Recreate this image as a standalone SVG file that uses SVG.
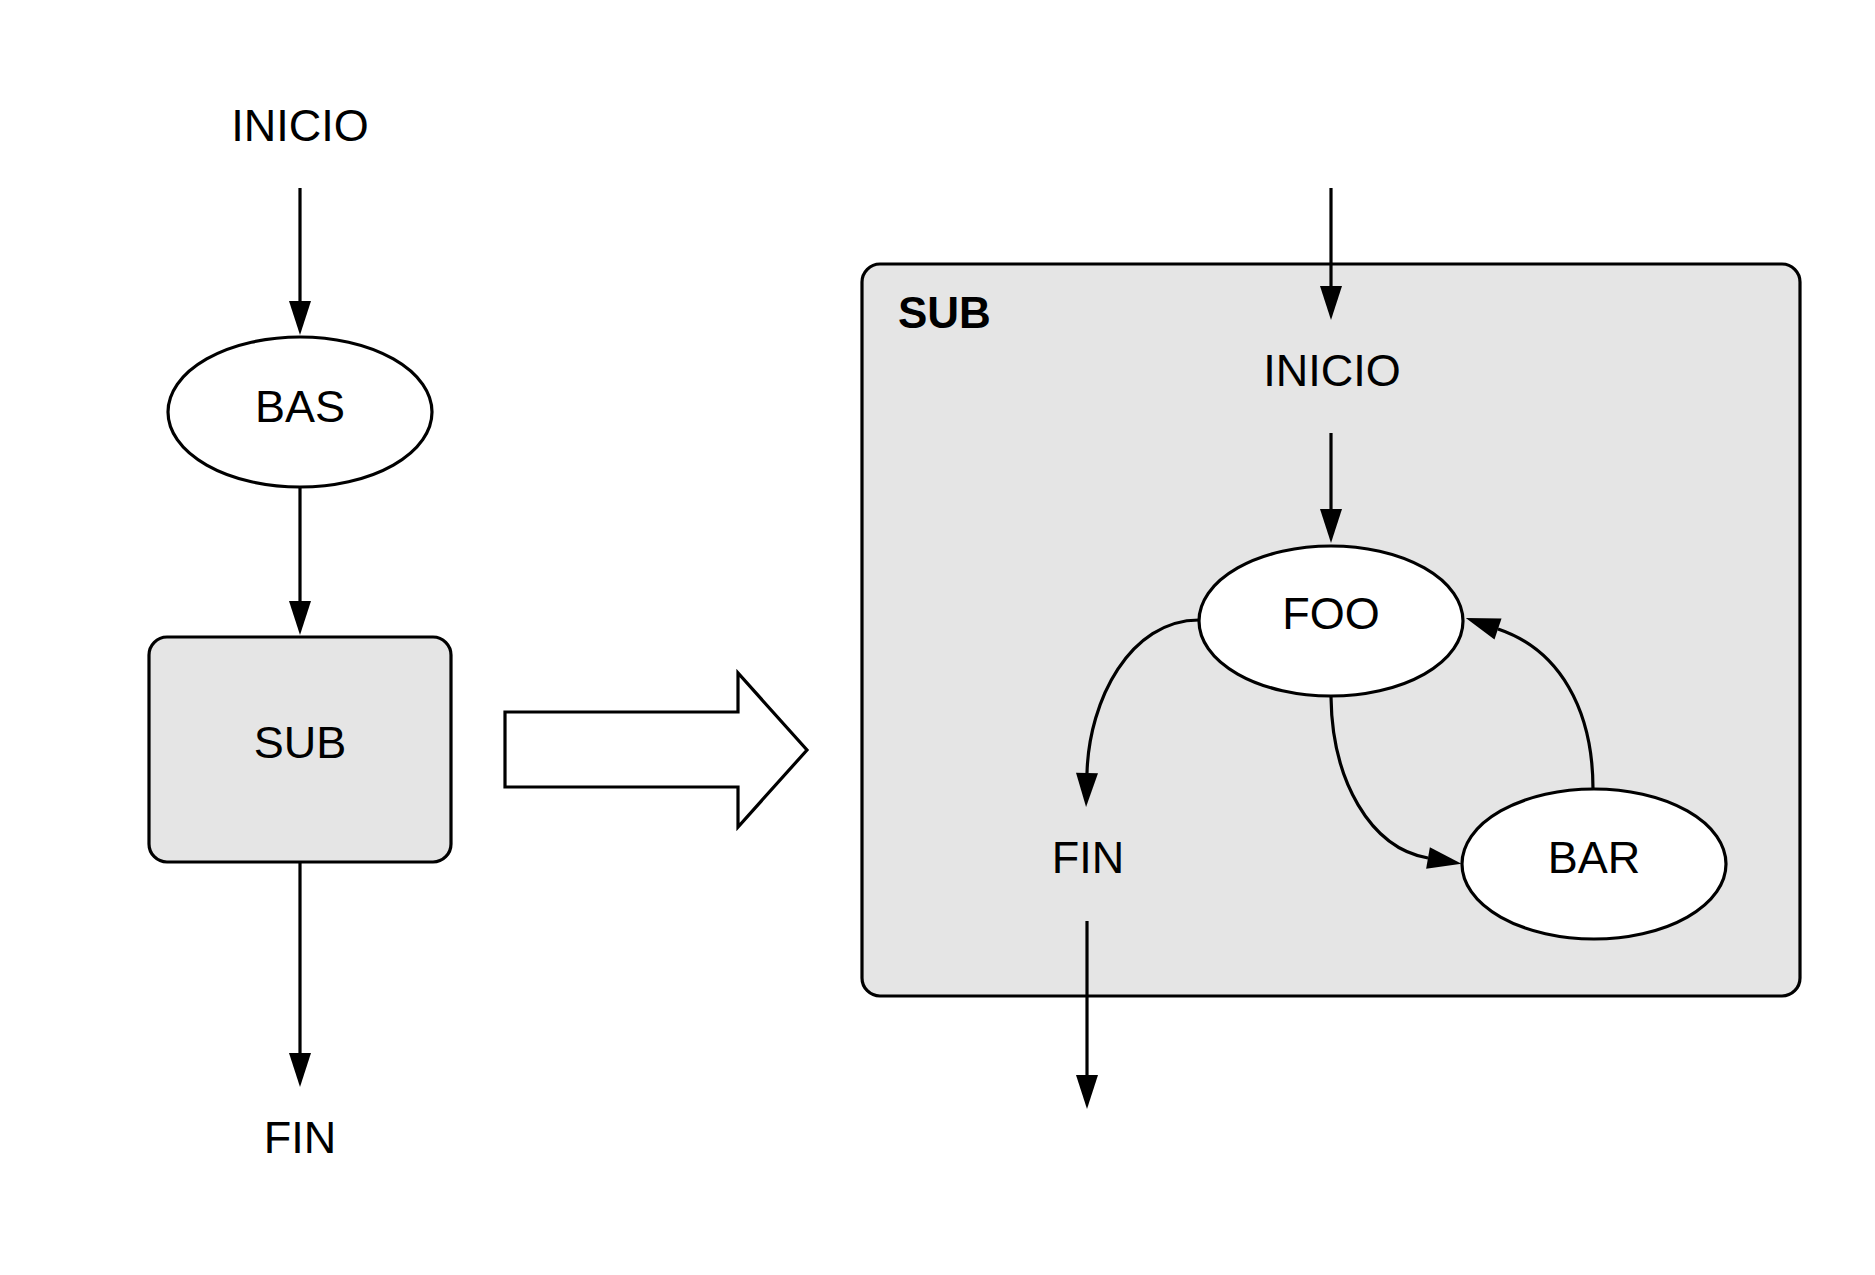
<svg xmlns="http://www.w3.org/2000/svg" width="1875" height="1275" viewBox="0 0 1875 1275">
<style>
text{font-family:"Liberation Sans",Arial,sans-serif;font-size:45px;fill:#000;text-anchor:middle}
.lbl{font-weight:bold;text-anchor:start;font-size:44px}
.shape{stroke:#000;stroke-width:3.2}
.node{fill:#fff}
.box{fill:#e5e5e5}
.edge{fill:none;stroke:#000;stroke-width:3.2;marker-end:url(#ah)}
</style>
<defs>
<marker id="ah" markerUnits="userSpaceOnUse" markerWidth="36" markerHeight="24" refX="0" refY="11" orient="auto" overflow="visible">
<path d="M0,0 L34,11 L0,22 z" fill="#000"/>
</marker>
</defs>
<rect width="1875" height="1275" fill="#fff"/>
<g id="cluster_sub">
<rect class="shape box" x="862" y="264" width="938" height="732" rx="18"/>
<text class="lbl" x="898" y="328">SUB</text>
</g>
<g id="connectors">
<path class="edge" d="M300,188 L300,301"/>
<path class="edge" d="M300,488 L300,601"/>
<path class="edge" d="M300,863 L300,1053"/>
<path class="edge" d="M1331,188 L1331,286"/>
<path class="edge" d="M1331,433 L1331,509"/>
<path class="edge" d="M1199,620 C1130,620 1089,700 1087,773"/>
<path class="edge" d="M1331,697 C1332,780 1370,848 1428,858"/>
<path class="edge" d="M1593,789 C1593,710 1560,650 1498,629"/>
<path class="edge" d="M1087,921 L1087,1075"/>
</g>
<g id="inicio1"><text x="300" y="141">INICIO</text></g>
<g id="bas"><ellipse class="shape node" cx="300" cy="412" rx="132" ry="75"/><text x="300" y="422">BAS</text></g>
<g id="sub"><rect class="shape box" x="149" y="637" width="302" height="225" rx="18"/><text x="300" y="758">SUB</text></g>
<g id="fin1"><text x="300" y="1153">FIN</text></g>
<g id="bigarrow"><polygon class="shape node" points="505,712 738,712 738,673 807,750 738,827 738,787 505,787"/></g>
<g id="inicio2"><text x="1332" y="386">INICIO</text></g>
<g id="foo"><ellipse class="shape node" cx="1331" cy="621" rx="132" ry="75"/><text x="1331" y="629">FOO</text></g>
<g id="bar"><ellipse class="shape node" cx="1594" cy="864" rx="132" ry="75"/><text x="1594" y="873">BAR</text></g>
<g id="fin2"><text x="1088" y="873">FIN</text></g>
</svg>
